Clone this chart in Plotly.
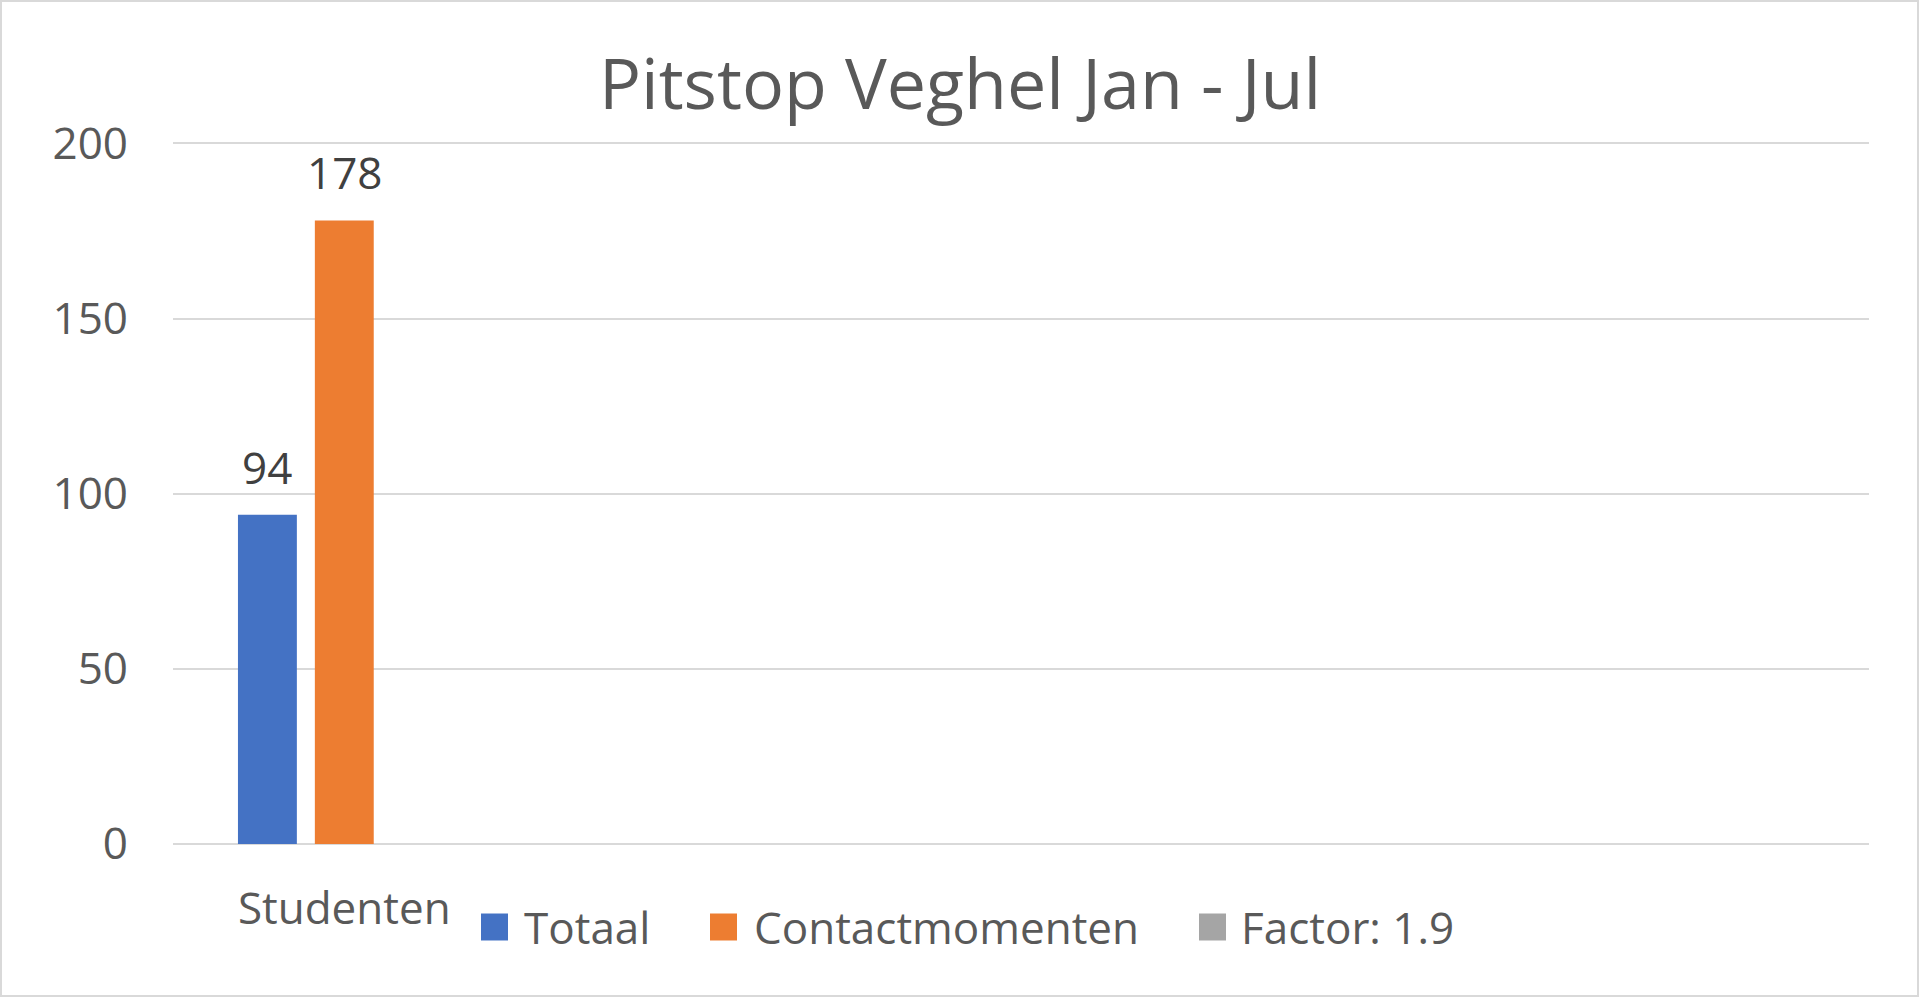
import plotly.graph_objects as go

# chart data
categories = ["Studenten"]
series_names = ["Totaal", "Contactmomenten", "Factor: 1.9"]
totaal = [94]
contactmomenten = [178]
factor = [None]
y_ticks = [0, 50, 100, 150, 200]

colors = ["#4472C4", "#ED7D31", "#A5A5A5"]
series_values = [totaal, contactmomenten, factor]

W, H = 1920, 998
ml, mr, mt, mb = 173, 51, 142, 154
plot_w = W - ml - mr
plot_h = H - mt - mb
n_slots = 5          # excel axis had room for 5 categories
bargap = 0.32
bargroupgap = 0.234
font = "Open Sans"

fig = go.Figure()
for name, vals, col in zip(series_names, series_values, colors):
    fig.add_trace(go.Bar(
        x=categories, y=vals, name=name,
        marker=dict(color=col, line=dict(width=0)),
        showlegend=False, hoverinfo="x+y+name",
    ))

# data labels above bars
slot_px = plot_w / n_slots * (1 - bargap) / len(series_names)
for i, vals in enumerate(series_values):
    for c, v in zip(categories, vals):
        if v is None:
            continue
        fig.add_annotation(
            x=c, y=v, xref="x", yref="y", text=str(v), showarrow=False,
            xshift=(i - (len(series_names) - 1) / 2) * slot_px,
            yshift=48, yanchor="middle",
            font=dict(family=font, size=44, color="#404040"),
        )

# legend drawn by hand so the swatches can be Excel sized
def px_x(p):
    return (p - ml) / plot_w

def px_y(p):
    return (H - mb - p) / plot_h

swatch_left = [481, 710, 1199]
text_left = [522, 752, 1239]
leg_y = 927
for name, col, sx, tx in zip(series_names, colors, swatch_left, text_left):
    fig.add_shape(type="rect", xref="paper", yref="paper",
                  x0=px_x(sx), x1=px_x(sx + 27),
                  y0=px_y(leg_y + 13.5), y1=px_y(leg_y - 13.5),
                  fillcolor=col, line=dict(width=0))
    fig.add_annotation(x=px_x(tx), y=px_y(leg_y), xref="paper", yref="paper",
                       text=name, showarrow=False, xanchor="left", yanchor="middle",
                       font=dict(family=font, size=44, color="#595959"))

# chart border
fig.add_shape(type="rect", xref="paper", yref="paper",
              x0=px_x(1), x1=px_x(W - 2), y0=px_y(H - 2), y1=px_y(1),
              line=dict(color="#D9D9D9", width=2), fillcolor="rgba(0,0,0,0)")

fig.update_layout(
    width=W, height=H,
    margin=dict(l=ml, r=mr, t=mt, b=mb),
    paper_bgcolor="white", plot_bgcolor="white",
    barmode="group", bargap=bargap, bargroupgap=bargroupgap,
    title=dict(text="Pitstop Veghel Jan - Jul", x=0.5, xanchor="center",
               y=1 - 84 / H, yanchor="middle", yref="container",
               font=dict(family=font, size=70, color="#595959")),
    font=dict(family=font, color="#595959"),
    xaxis=dict(type="category", range=[-0.505, n_slots - 0.505],
               showgrid=False, showline=False, ticks="",
               tickfont=dict(size=44, color="#595959"),
               ticklabelstandoff=35),
    yaxis=dict(range=[0, 200.4], tickvals=y_ticks, showgrid=True,
               gridcolor="#D9D9D9", gridwidth=2, zeroline=True,
               zerolinecolor="#D9D9D9", zerolinewidth=2, showline=False,
               ticks="", tickfont=dict(size=44, color="#595959"),
               ticklabelstandoff=44),
)

fig.write_html("out.html", config={"displayModeBar": False},
               post_script="document.body.style.margin='0';")
